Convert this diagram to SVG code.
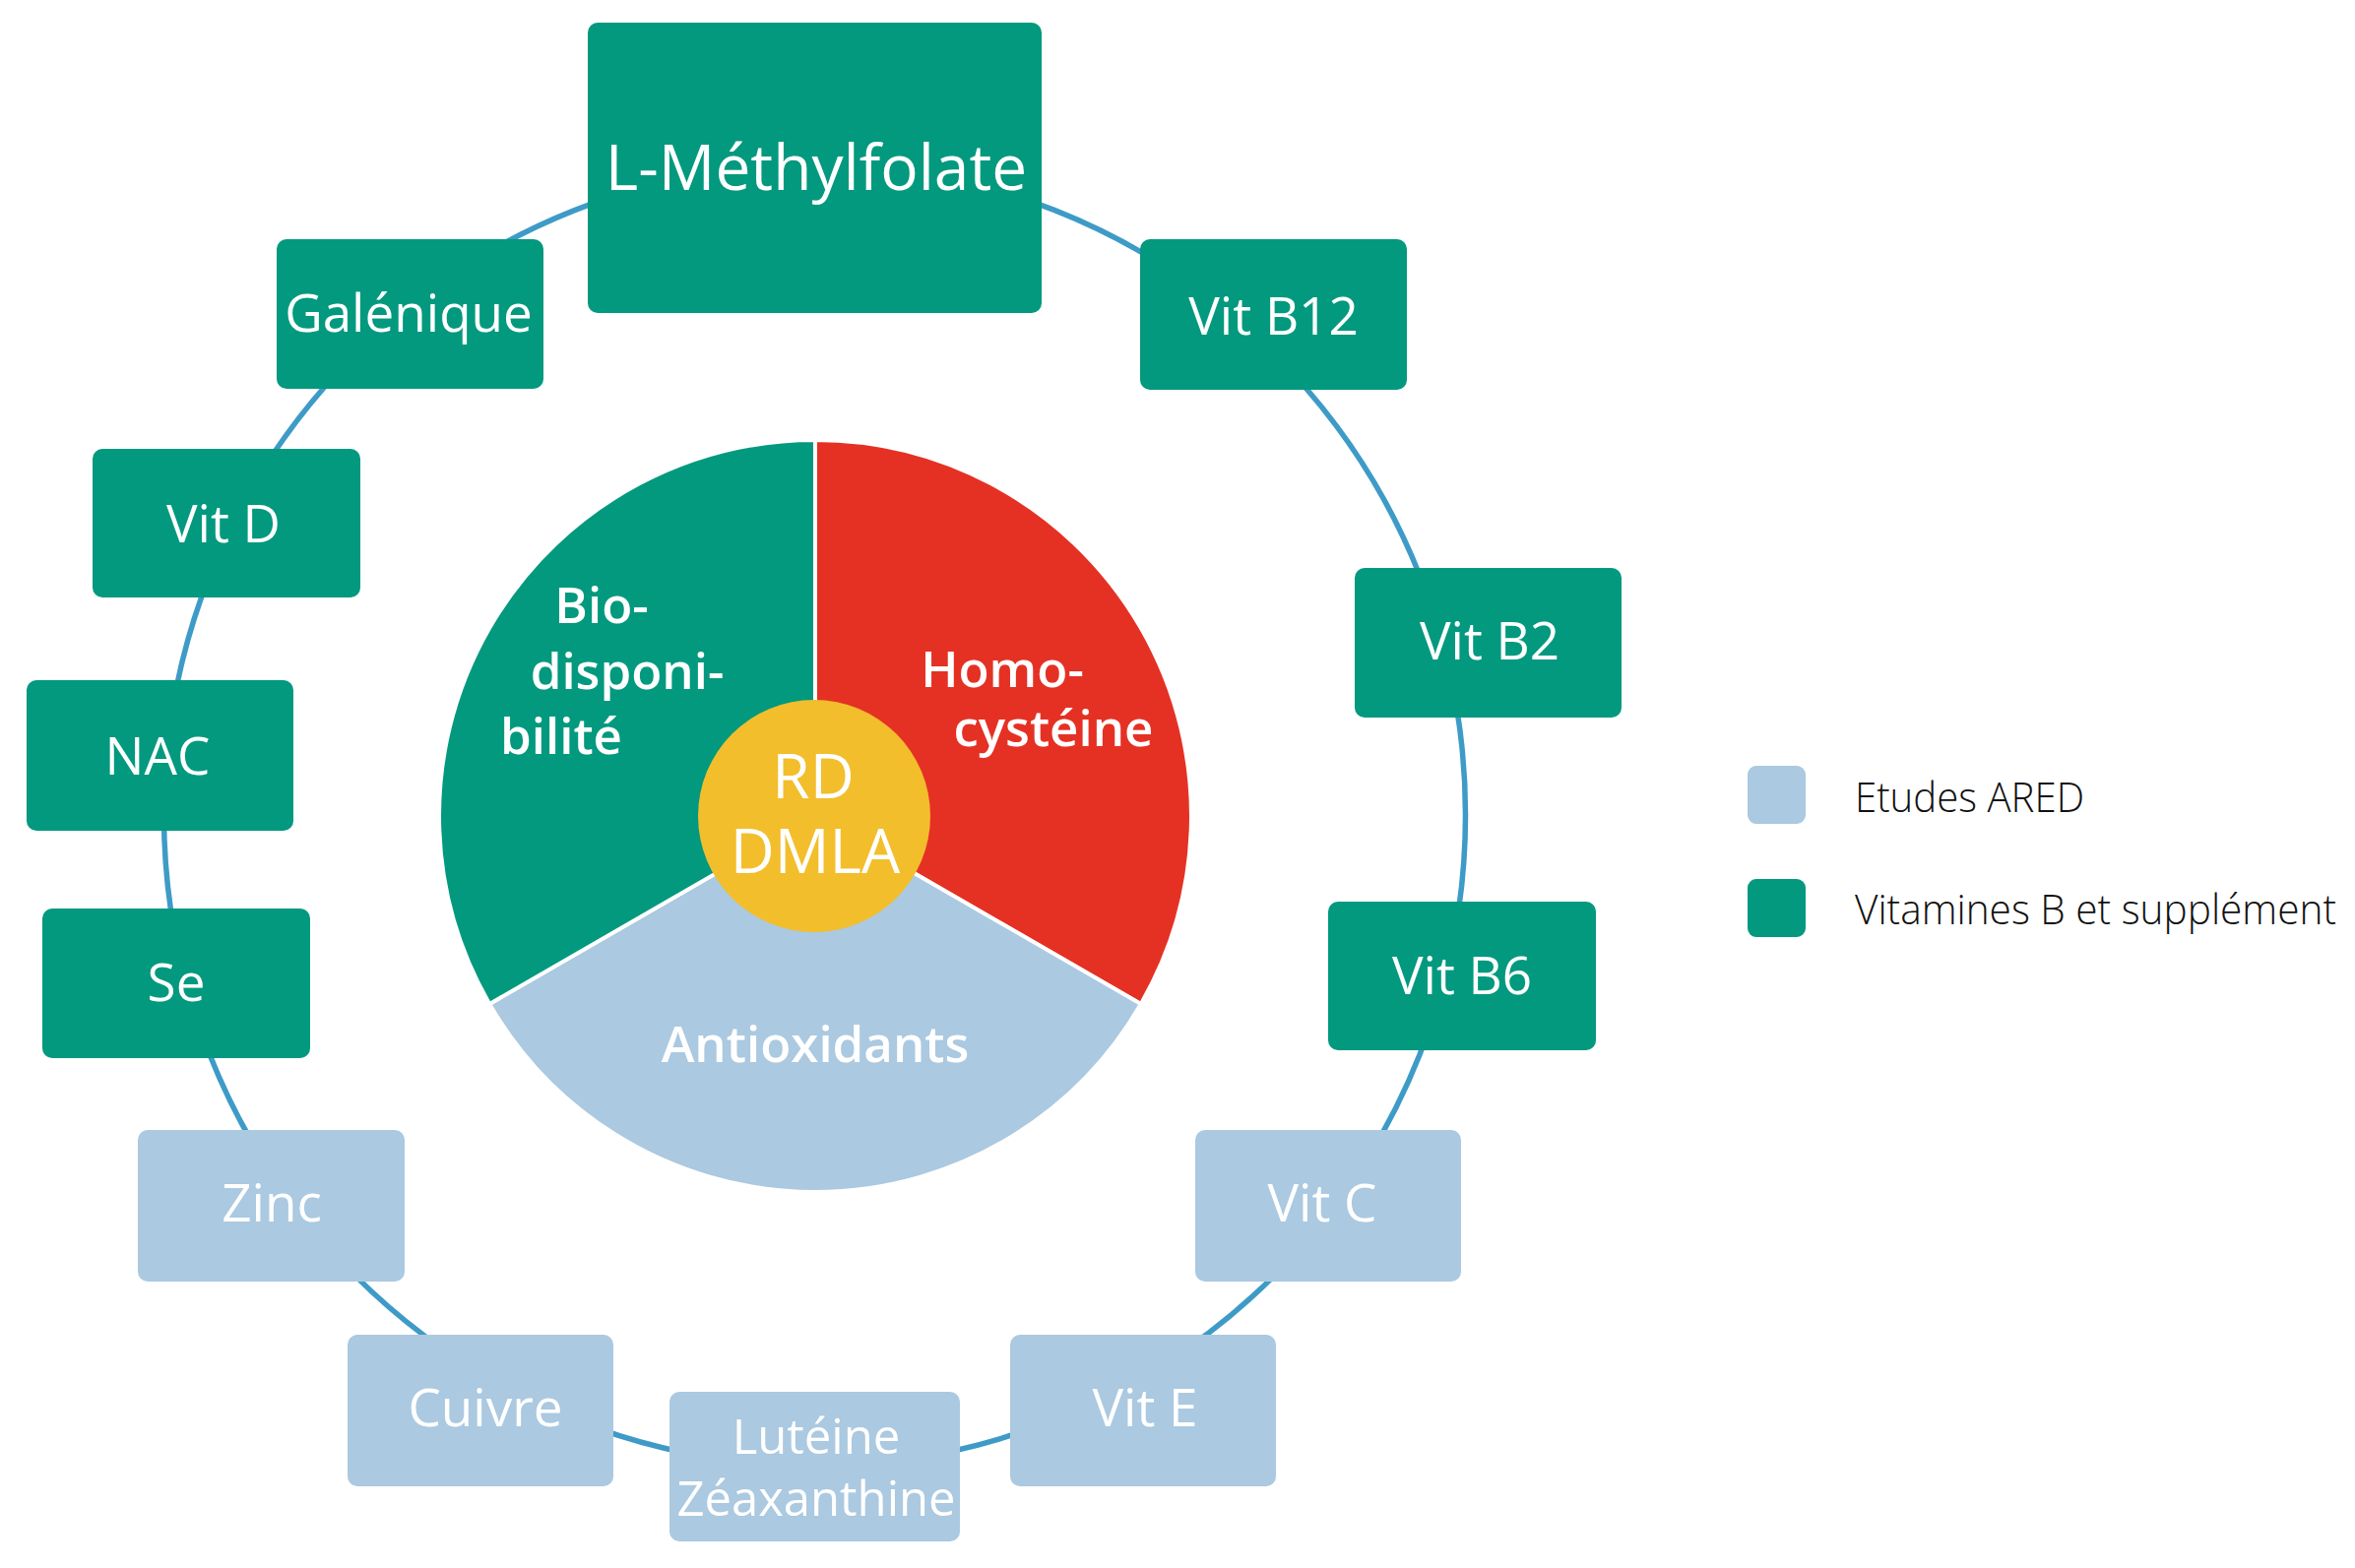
<svg xmlns="http://www.w3.org/2000/svg" width="2392" height="1593" viewBox="0 0 2392 1593">
<style>
.teal{fill:#02997F}
.blue{fill:#ABC9E0}
.lbl{font-family:"Open Sans","Noto Sans","Liberation Sans",sans-serif;font-size:53px;fill:#FFFFFF;text-anchor:middle}
.pie{font-family:"Open Sans","Noto Sans","Liberation Sans",sans-serif;font-size:51px;font-weight:600;fill:#FFFFFF;text-anchor:middle}
.big{font-family:"Open Sans","Noto Sans","Liberation Sans",sans-serif;font-size:64px;fill:#FFFFFF;text-anchor:middle}
.ctr{font-family:"Open Sans","Noto Sans","Liberation Sans",sans-serif;font-size:62px;fill:#FFFFFF;text-anchor:middle}
.leg{font-family:"Open Sans","Noto Sans","Liberation Sans",sans-serif;font-size:42px;font-weight:300;fill:#111111}
</style>
<rect width="2392" height="1593" fill="#FFFFFF"/>
<g id="connectors">
<circle cx="827.5" cy="828" r="661" fill="none" stroke="#3E9BC7" stroke-width="5.5"/>
</g>
<g id="pie">
<path d="M828,829 L828,447 A382,382 0 0 1 1158.8,1020 Z" fill="#E53124" stroke="#FFFFFF" stroke-width="4" stroke-linejoin="round"/>
<path d="M828,829 L1158.8,1020 A382,382 0 0 1 497.2,1020 Z" fill="#ABC9E0" stroke="#FFFFFF" stroke-width="4" stroke-linejoin="round"/>
<path d="M828,829 L497.2,1020 A382,382 0 0 1 828,447 Z" fill="#02997F" stroke="#FFFFFF" stroke-width="4" stroke-linejoin="round"/>
<text class="pie" x="611" y="633">Bio-</text>
<text class="pie" x="637" y="700">disponi-</text>
<text class="pie" x="570" y="766">bilité</text>
<text class="pie" x="1018" y="698">Homo-</text>
<text class="pie" x="1070" y="758">cystéine</text>
<text class="pie" x="828" y="1079">Antioxidants</text>
</g>
<g id="center">
<circle cx="827" cy="829" r="118" fill="#F2BE2C"/>
<text class="ctr" x="826" y="811">RD</text>
<text class="ctr" x="828" y="887">DMLA</text>
</g>
<g id="n-methylfolate"><rect class="teal" x="597" y="23" width="461" height="295" rx="10"/><text class="big" x="829" y="193">L-Méthylfolate</text></g>
<g id="n-vitb12"><rect class="teal" x="1158" y="243" width="271" height="153" rx="10"/><text class="lbl" x="1293.5" y="340">Vit B12</text></g>
<g id="n-vitb2"><rect class="teal" x="1376" y="577" width="271" height="152" rx="10"/><text class="lbl" x="1513" y="670">Vit B2</text></g>
<g id="n-vitb6"><rect class="teal" x="1349" y="916" width="272" height="151" rx="10"/><text class="lbl" x="1485" y="1010">Vit B6</text></g>
<g id="n-vitc"><rect class="blue" x="1214" y="1148" width="270" height="154" rx="10"/><text class="lbl" x="1343" y="1241">Vit C</text></g>
<g id="n-vite"><rect class="blue" x="1026" y="1356" width="270" height="154" rx="10"/><text class="lbl" x="1163" y="1449">Vit E</text></g>
<g id="n-luteine"><rect class="blue" x="680" y="1414" width="295" height="152" rx="10"/><text class="lbl" x="829" y="1477" style="font-size:49px">Lutéine</text><text class="lbl" x="829" y="1540" style="font-size:49px">Zéaxanthine</text></g>
<g id="n-cuivre"><rect class="blue" x="353" y="1356" width="270" height="154" rx="10"/><text class="lbl" x="493" y="1449">Cuivre</text></g>
<g id="n-zinc"><rect class="blue" x="140" y="1148" width="271" height="154" rx="10"/><text class="lbl" x="276" y="1241">Zinc</text></g>
<g id="n-se"><rect class="teal" x="43" y="923" width="272" height="152" rx="10"/><text class="lbl" x="179" y="1017">Se</text></g>
<g id="n-nac"><rect class="teal" x="27" y="691" width="271" height="153" rx="10"/><text class="lbl" x="160" y="787">NAC</text></g>
<g id="n-vitd"><rect class="teal" x="94" y="456" width="272" height="151" rx="10"/><text class="lbl" x="227" y="551">Vit D</text></g>
<g id="n-galenique"><rect class="teal" x="281" y="243" width="271" height="152" rx="10"/><text class="lbl" x="415" y="337">Galénique</text></g>
<g id="legend">
<rect class="blue" x="1775" y="778" width="59" height="59" rx="9"/>
<text class="leg" x="1884" y="825" textLength="233" lengthAdjust="spacingAndGlyphs">Etudes ARED</text>
<rect class="teal" x="1775" y="893" width="59" height="59" rx="9"/>
<text class="leg" x="1884" y="939" textLength="489" lengthAdjust="spacingAndGlyphs">Vitamines B et supplément</text>
</g>
</svg>
